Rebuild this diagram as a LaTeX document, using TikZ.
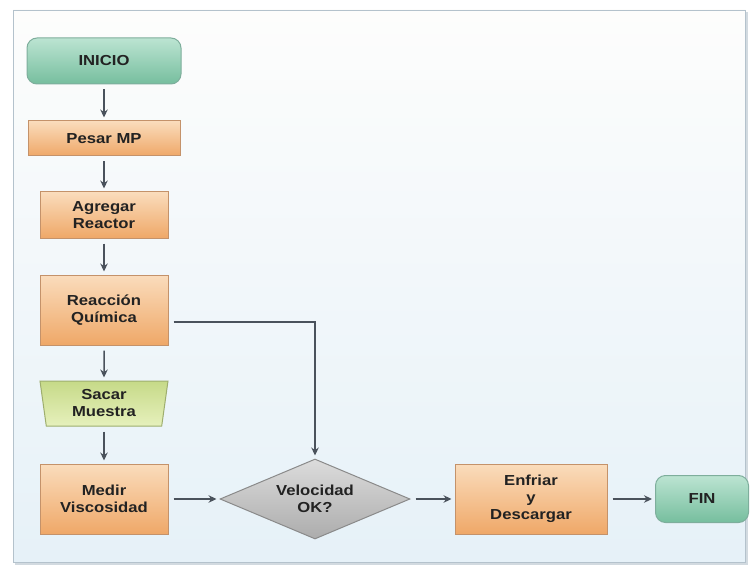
\documentclass[tikz,border=0pt]{standalone}
\usepackage{fontspec}
\newfontfamily\boxfont{Liberation Sans}[FakeStretch=1.15]
\usetikzlibrary{shapes.geometric,arrows.meta}

\definecolor{panelTop}{HTML}{FDFDFC}
\definecolor{panelBot}{HTML}{E6F1F8}
\definecolor{panelEdge}{HTML}{B4C2CC}
\definecolor{procTop}{HTML}{FADCBC}
\definecolor{procBot}{HTML}{EFA868}
\definecolor{procEdge}{HTML}{C4926A}
\definecolor{termTop}{HTML}{BCE4D2}
\definecolor{termBot}{HTML}{76BE9E}
\definecolor{termEdge}{HTML}{7EAE9C}
\definecolor{ioTop}{HTML}{E6F0BC}
\definecolor{ioBot}{HTML}{C6DA88}
\definecolor{ioEdge}{HTML}{9EAE6E}
\definecolor{decTop}{HTML}{DCDCDC}
\definecolor{decBot}{HTML}{ACACAC}
\definecolor{decEdge}{HTML}{8A8A8A}
\definecolor{flowLine}{HTML}{4A525C}
\definecolor{labelInk}{HTML}{222222}

\tikzset{
  boxtext/.style={font=\boxfont\bfseries\fontsize{14.5}{17}\selectfont, text=labelInk, align=center, inner sep=0pt},
  procbox/.style={boxtext, rectangle, draw=procEdge, line width=1pt, top color=procTop, bottom color=procBot},
  termbox/.style={boxtext, rectangle, rounded corners=10pt, draw=termEdge, line width=1pt, top color=termTop, bottom color=termBot},
  iobox/.style={boxtext, trapezium, trapezium stretches body, shape border rotate=180, trapezium angle=77,
    draw=ioEdge, line width=1pt, top color=ioBot, bottom color=ioTop},
  decbox/.style={boxtext, diamond, aspect=2.4, draw=decEdge, line width=1pt, top color=decTop, bottom color=decBot},
  flow/.style={draw=flowLine, line width=1.5pt, -{Stealth[length=8pt,width=7.5pt]}, shorten <=5pt, shorten >=3pt}
}

\begin{document}
\begin{tikzpicture}[x=1pt,y=-1pt]
  \useasboundingbox (0,0) rectangle (754,569);
  \fill[white] (0,0) rectangle (754,569);
  % panel with soft shadow
  \fill[panelEdge!60] (15,12) rectangle (748,565);
  \shade[top color=panelTop, bottom color=panelBot, draw=panelEdge, line width=0.8pt] (13,10) rectangle (745,562);

  % nodes
  \node[termbox, minimum width=154pt, minimum height=46pt] (inicio) at (104,61) {INICIO};
  \node[procbox, minimum width=152pt, minimum height=35pt] (pesar) at (104,138.5) {Pesar MP};
  \node[procbox, minimum width=128pt, minimum height=46pt] (agregar) at (104,215) {Agregar\\Reactor};
  \node[procbox, minimum width=128pt, minimum height=70pt] (reaccion) at (104,310) {Reacción\\Química};
  \node[iobox, minimum width=128pt, minimum height=45pt] (sacar) at (104,403.5) {Sacar\\Muestra};
  \node[procbox, minimum width=128pt, minimum height=70pt] (medir) at (104,499) {Medir\\Viscosidad};
  \node[decbox, minimum width=190pt, minimum height=80pt] (velocidad) at (315,499) {Velocidad\\OK?};
  \node[procbox, minimum width=152pt, minimum height=70pt] (enfriar) at (531,499) {Enfriar\\y\\Descargar};
  \node[termbox, minimum width=93pt, minimum height=47pt] (fin) at (702,499) {FIN};

  \coordinate (bend) at (315,322);

  % connectors
  \draw[flow] (inicio) -- (pesar);
  \draw[flow] (pesar) -- (agregar);
  \draw[flow] (agregar) -- (reaccion);
  \draw[flow] (reaccion) -- (sacar);
  \draw[flow] (sacar) -- (medir);
  \draw[flow] (medir) -- (velocidad);
  \draw[flow] (velocidad) -- (enfriar);
  \draw[flow] (enfriar) -- (fin);
  \draw[flow] (reaccion.east |- bend) -- (bend) -- (velocidad.north);
\end{tikzpicture}
\end{document}
